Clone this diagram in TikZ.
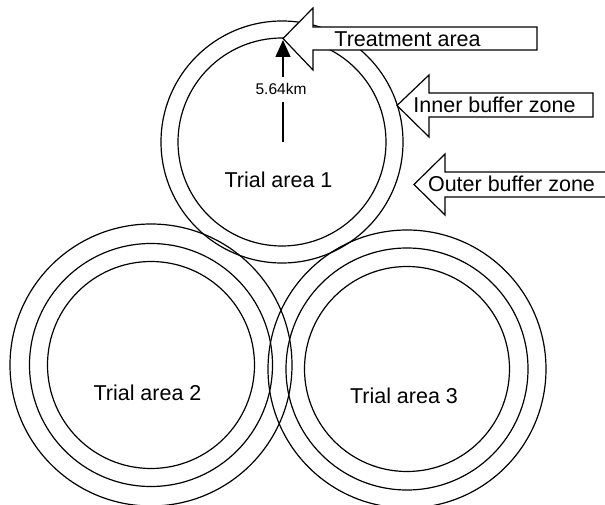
\documentclass[tikz,border=0pt]{standalone}
\usepackage{fontspec}
\setmainfont{Liberation Sans}
\usetikzlibrary{arrows.meta,positioning,calc}

\begin{document}
\begin{tikzpicture}[x=1pt,y=-1pt,line width=1.2pt,
  ring/.style={draw},
  pointer/.style={draw,fill=white,line join=miter},
  areatext/.style={font=\fontsize{21.5}{24}\selectfont,anchor=base,inner sep=0pt},
  disttext/.style={font=\fontsize{15.5}{18}\selectfont,anchor=base,inner sep=6pt}]
\useasboundingbox (0,0) rectangle (605,505);
% Centres of the trial areas
\coordinate (c1) at (282,142);
\coordinate (c2) at (151,365);
\coordinate (c3) at (407,369);
% Trial area 1 (treatment area and inner buffer)
\draw[ring] (c1) circle (104);
\draw[ring] (c1) circle (121);
% Trial area 2
\draw[ring] (c2) circle (103.5);
\draw[ring] (c2) circle (121.5);
\draw[ring] (c2) circle (141);
% Trial area 3
\draw[ring] (c3) circle (102.5);
\draw[ring] (c3) circle (121);
\draw[ring] (c3) circle (139);

% Block arrows
\draw[pointer] (537,27) -- (313,27) -- (313,8) -- (283,38.5) -- (313,70) -- (313,50) -- (537,50) -- cycle;
\draw[pointer] (593,93) -- (429,93) -- (429,75) -- (397,105.5) -- (429,137) -- (429,117) -- (593,117) -- cycle;
\draw[pointer] (607,172) -- (445,172) -- (445,154) -- (414,184.5) -- (445,215) -- (445,197) -- (607,197);

% Labels
\node[areatext] (treat) at (407.5,47) {Treatment area};
\node[areatext] (inner) at (494.5,113) {Inner buffer zone};
\node[areatext] (outer) at (511.5,192) {Outer buffer zone};
\node[areatext] (t1) at (278.5,188) {Trial area 1};
\node[areatext] (t2) at (147.5,400) {Trial area 2};
\node[areatext] (t3) at (404,403) {Trial area 3};

% Radius
\coordinate (tip) at (283,40);
\node[disttext] (dist) at (281,95) {5.64km};
\draw ($(c1)+(1,0)$) -- (dist.south -| tip);
\draw[-{Triangle[length=17pt,width=15pt]}] (dist.north -| tip) -- (tip);
\end{tikzpicture}
\end{document}
